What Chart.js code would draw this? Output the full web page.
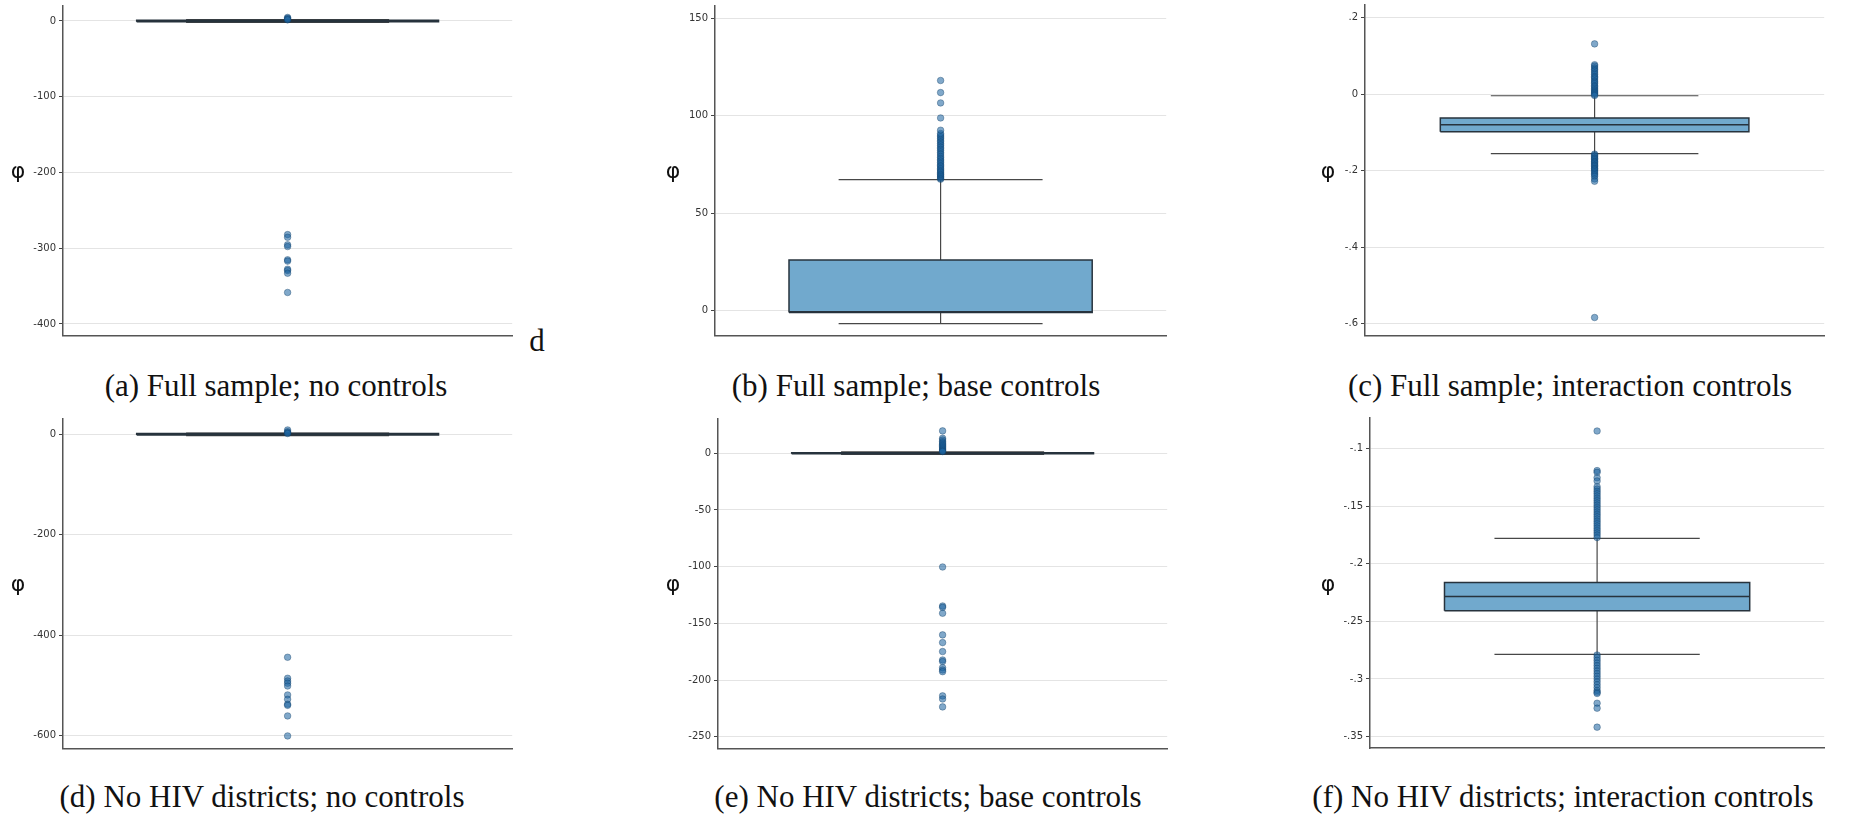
<!DOCTYPE html>
<html>
<head>
<meta charset="utf-8">
<script src="https://cdn.jsdelivr.net/npm/chart.js@4.4.0/dist/chart.umd.min.js"></script>
<style>
  body { margin: 0; background: #fff; width: 1852px; height: 815px; position: relative; overflow: hidden; }
  .panel { position: absolute; }
  .phi { position: absolute; font-family: 'DejaVu Sans', sans-serif; font-size: 22px; color: #111; transform: translate(-50%, -50%); }
  .caption { position: absolute; font-family: 'Liberation Serif', serif; font-size: 31px; color: #111; white-space: nowrap; transform: translate(-50%, -50%); }
</style>
</head>
<body>
<script>
// box stats: [lower whisker, q1, median, q3, upper whisker]
// (a) Full sample; no controls
const statsA = [-1.8, -1, 0, 1, 1.8];
const outA = [4.7, 3.6, 2.5, 1.5, -282, -285.5, -295.5, -297.8, -315.3, -317, -327.7, -329.5, -333, -358.4];
const ticksA = [0, -100, -200, -300, -400];

// (b) Full sample; base controls
const statsB = [-6.7, -1.0, -0.6, 25.9, 67.2];
const outB = [67.4, 67.9, 68.5, 69.0, 69.7, 70.2, 70.9, 71.6, 72.2, 72.9, 73.7, 74.4, 75.1, 76.0, 76.8, 77.6, 78.5, 79.3, 80.3, 81.1, 82.1, 83.0, 83.8, 84.8, 85.6, 86.6, 87.4, 88.4, 89.1, 90.0, 90.8, 92.5, 98.8, 106.5, 111.8, 118.0];
const ticksB = [0, 50, 100, 150];

// (c) Full sample; interaction controls
const statsC = [-0.156, -0.0987, -0.0804, -0.0628, -0.0045];
const outC = [0.131, 0.0765, 0.073, 0.068, 0.064, 0.060, 0.055, 0.051, 0.046, 0.043, 0.039, 0.034, 0.031, 0.027, 0.022, 0.019, 0.015, 0.011, 0.008, 0.005, 0.002, -0.001, -0.004,
  -0.157, -0.160, -0.163, -0.167, -0.169, -0.172, -0.176, -0.178, -0.181, -0.185, -0.187, -0.190, -0.194, -0.196, -0.199, -0.203, -0.207, -0.211, -0.215, -0.222, -0.228, -0.584];
const ticksC = [0.2, 0, -0.2, -0.4, -0.6];

// (d) No HIV districts; no controls
const statsD = [-2.5, -1.5, 0, 1.5, 2.5];
const outD = [8.6, 5, 3, 1.5, -443.8, -485.6, -491, -495.5, -501, -518.8, -527.4, -537.3, -539.5, -560.6, -600.4];
const ticksD = [0, -200, -400, -600];

// (e) No HIV districts; base controls
const statsE = [-1.0, -0.4, 0, 0.4, 1.2];
const outE = [19.7, 13.2, 11.7, 10.2, 9.0, 7.9, 6.8, 5.8, 4.7, 3.7, 2.8, 2.0, 1.5, -100.3, -134.7, -135.9, -141.1, -160.2, -167, -174.9, -182.3, -183.7, -189.1, -191.1, -192.6, -214, -216.7, -223.7];
const ticksE = [0, -50, -100, -150, -200, -250];

// (f) No HIV districts; interaction controls
const statsF = [-0.2787, -0.2408, -0.2284, -0.2162, -0.1778];
const outF = [-0.0846, -0.119, -0.1205, -0.1252, -0.128, -0.133, -0.135, -0.137, -0.139, -0.141, -0.143, -0.145, -0.147, -0.149, -0.151, -0.153, -0.155, -0.157, -0.159, -0.161, -0.163, -0.165, -0.167, -0.169, -0.171, -0.173, -0.175, -0.1772,
  -0.2792, -0.2815, -0.2838, -0.2861, -0.2884, -0.2907, -0.293, -0.2953, -0.2976, -0.300, -0.3025, -0.305, -0.3075, -0.310, -0.3115, -0.3126, -0.3211, -0.3254, -0.3419];
const ticksF = [-0.1, -0.15, -0.2, -0.25, -0.3, -0.35];

const captions = [
  '(a) Full sample; no controls',
  '(b) Full sample; base controls',
  '(c) Full sample; interaction controls',
  '(d) No HIV districts; no controls',
  '(e) No HIV districts; base controls',
  '(f) No HIV districts; interaction controls'
];

// layout of each panel (pixels on the page) and y-range
const panels = [
  { stats: statsA, out: outA, ticks: ticksA, min: -415.6, max: 19.8, axisX: 63, right: 517, top: 5.5, bottom: 335.3, phi: [18, 170], cap: [276, 386] },
  { stats: statsB, out: outB, ticks: ticksB, min: -12.8, max: 156.2, axisX: 715, right: 1171, top: 5.7, bottom: 335.3, phi: [673, 170], cap: [916, 386] },
  { stats: statsC, out: outC, ticks: ticksC, min: -0.6305, max: 0.2326, axisX: 1365, right: 1829, top: 5, bottom: 335.3, phi: [1328, 170], cap: [1570, 386] },
  { stats: statsD, out: outD, ticks: ticksD, min: -625, max: 30.4, axisX: 63, right: 517, top: 419, bottom: 748.3, phi: [18, 583], cap: [262, 797] },
  { stats: statsE, out: outE, ticks: ticksE, min: -260.2, max: 30.2, axisX: 718, right: 1172, top: 419, bottom: 748.3, phi: [673, 583], cap: [928, 797] },
  { stats: statsF, out: outF, ticks: ticksF, min: -0.36, max: -0.0733, axisX: 1370, right: 1829, top: 418, bottom: 748, phi: [1328, 583], cap: [1563, 797] }
];

const YW = 50;   // y axis width
const PAD = 15;  // room above / below plot
const X0 = 0.5 - 0.336, X1 = 0.5 + 0.336;  // box edges
const C0 = 0.5 - 0.226, C1 = 0.5 + 0.226;  // whisker caps
const BOX_FILL = '#71a9cd';
const BOX_LINE = '#27333d';

// Stata style labels: .2, -.15
function fmtTick(v) {
  return String(Number(v.toFixed(4))).replace(/^(-?)0\./, '$1.');
}

function boxDatasets(stats, outliers) {
  const [lo, q1, med, q3, hi] = stats;
  return [
    {
      type: 'scatter',
      data: outliers.map(v => ({ x: 0.5, y: v })),
      pointRadius: 3.3,
      backgroundColor: 'rgba(28, 100, 160, 0.56)',
      borderColor: 'rgba(10, 55, 95, 0.45)',
      borderWidth: 0.8,
      order: 0
    },
    {
      type: 'line',
      data: [{ x: X0, y: med }, { x: X1, y: med }],
      borderColor: BOX_LINE, borderWidth: 1.5, pointRadius: 0, order: 1
    },
    {
      type: 'line',
      data: [{ x: X0, y: q1 }, { x: X1, y: q1 }, { x: X1, y: q3 }, { x: X0, y: q3 }, { x: X0, y: q1 }],
      borderColor: BOX_LINE, borderWidth: 1.5, pointRadius: 0, order: 1
    },
    {
      type: 'line',
      data: [{ x: X0, y: q3 }, { x: X1, y: q3 }],
      borderWidth: 0, pointRadius: 0, fill: '+1', backgroundColor: BOX_FILL, order: 2
    },
    {
      type: 'line',
      data: [{ x: X0, y: q1 }, { x: X1, y: q1 }],
      borderWidth: 0, pointRadius: 0, order: 2
    },
    {
      type: 'line',
      data: [
        { x: 0.5, y: q3 }, { x: 0.5, y: hi }, { x: 0.5, y: null },
        { x: C0, y: hi }, { x: C1, y: hi }, { x: 0.5, y: null },
        { x: 0.5, y: q1 }, { x: 0.5, y: lo }, { x: 0.5, y: null },
        { x: C0, y: lo }, { x: C1, y: lo }
      ],
      borderColor: '#474747', borderWidth: 1.2, pointRadius: 0, spanGaps: false, order: 3
    }
  ];
}

function addText(cls, text, x, y) {
  const el = document.createElement('div');
  el.className = cls;
  el.textContent = text;
  el.style.left = x + 'px';
  el.style.top = y + 'px';
  document.body.appendChild(el);
}

panels.forEach((p, i) => {
  const left = p.axisX - YW;
  const div = document.createElement('div');
  div.className = 'panel';
  div.style.left = left + 'px';
  div.style.top = (p.top - PAD) + 'px';
  div.style.width = (p.right - left) + 'px';
  div.style.height = (p.bottom - p.top + 2 * PAD) + 'px';
  const canvas = document.createElement('canvas');
  div.appendChild(canvas);
  document.body.appendChild(div);

  new Chart(canvas.getContext('2d'), {
    type: 'scatter',
    data: { datasets: boxDatasets(p.stats, p.out) },
    options: {
      responsive: true,
      maintainAspectRatio: false,
      animation: false,
      devicePixelRatio: 1,
      layout: { padding: { top: PAD, bottom: PAD, left: 0, right: 0 } },
      plugins: { legend: { display: false }, tooltip: { enabled: false } },
      scales: {
        x: {
          type: 'linear', min: 0, max: 1,
          ticks: { display: false },
          grid: { display: false },
          border: { display: true, color: '#555', width: 1.5 },
          afterFit: s => { s.height = 0; }
        },
        y: {
          type: 'linear', min: p.min, max: p.max, bounds: 'data',
          afterBuildTicks: s => { s.ticks = p.ticks.map(v => ({ value: v })); },
          afterFit: s => { s.width = YW; },
          ticks: {
            font: { family: 'DejaVu Sans', size: 10 },
            color: '#333',
            padding: 3,
            callback: v => fmtTick(v)
          },
          grid: { color: '#e4e4e4', lineWidth: 1, tickLength: 4, tickColor: '#444' },
          border: { display: true, color: '#555', width: 1.5 }
        }
      }
    }
  });

  addText('phi', 'φ', p.phi[0], p.phi[1]);
  addText('caption', captions[i], p.cap[0], p.cap[1]);
});

// stray axis label next to panel (a)
addText('caption', 'd', 537, 341);
</script>
</body>
</html>
